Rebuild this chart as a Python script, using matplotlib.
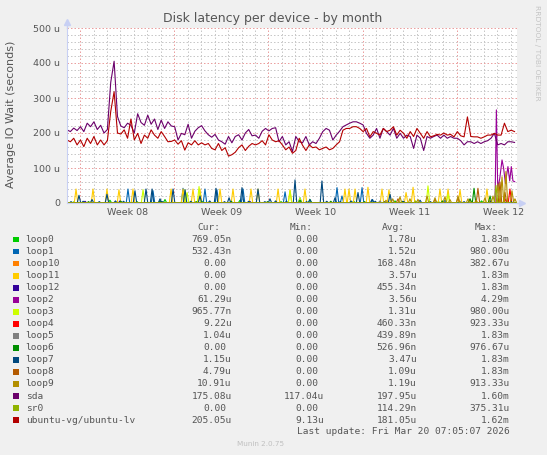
import matplotlib.pyplot as plt
from matplotlib.patches import Rectangle

W, H = 547, 455

# main series, one value every 6 hours (x axis = days from the left edge), in micro seconds
step = 0.25
sda = [209, 204, 214, 207, 218, 204, 228, 218, 232, 210, 222, 200, 210,
       345, 405, 247, 220, 215, 228, 222, 200, 255, 230, 222, 251, 225, 240, 210, 237, 213, 232,
       220, 218, 180, 199, 195, 225, 185, 205, 215, 221, 206, 195, 188, 196, 180, 175, 168, 190,
       172, 190, 195, 180, 200, 210, 192,
       194, 185, 205, 213, 206, 213, 215, 175, 190, 166, 175, 147, 190, 175, 172, 190, 166, 175,
       170, 185, 204, 213, 208, 180, 194, 205,
       218, 223, 228, 232, 232, 228, 223, 199, 185, 194, 213, 185, 213, 204, 194, 213, 185, 199,
       185, 194, 190, 156, 194, 185, 150,
       190, 185, 190, 194, 185, 194, 185, 190, 185, 185, 178, 166, 175, 175, 170, 175, 170, 175,
       178, 185, 199, 166, 170, 166, 175, 175, 173]
ubuntu_lv = [180, 175, 185, 166, 180, 161, 185, 170, 190, 166, 180, 166, 178,
             262, 318, 200, 197, 209, 185, 240, 180, 199, 170, 194, 185, 209, 194, 185, 204, 190, 175,
             176, 180, 168, 178, 151, 172, 166, 178, 166, 172, 166, 170, 156, 152, 170, 150, 158, 134,
             138, 145, 158, 166, 150, 162, 170,
             166, 170, 178, 166, 195, 180, 175, 178, 166, 152, 160, 142, 150, 185, 165, 150, 166, 158,
             160, 152, 156, 160, 152, 156, 166, 175,
             208, 213, 213, 218, 218, 213, 204, 213, 189, 204, 199, 194, 213, 204, 208, 218, 194, 208,
             199, 185, 204, 190, 213, 199, 185,
             204, 189, 192, 196, 194, 200, 194, 196, 189, 204, 192, 189, 246, 190, 189, 189, 185, 189,
             194, 194, 199, 194, 194, 228, 204, 208, 204]

# small devices: spikes as (day, height in u)
loop0_days = [0.5, 3.19, 5.2, 7.28, 10.1, 12.85, 15.9, 18.05, 21.3, 24.37, 27.6, 30.8]
loop0_vals = [3, 8, 4, 10, 5, 8, 4, 10, 5, 6, 4, 6]
loop1_days = [4.53, 6.39, 8.62, 10.25, 11.14, 13.08, 16.20, 17.31, 20.06, 20.43, 21.92, 22.70, 28.08]
loop1_vals = [40, 35, 42, 40, 38, 40, 32, 15, 44, 20, 44, 10, 8]
loop10_days = [29.94, 31.43]
loop10_vals = [10, 8]
loop11_days = [0.67, 1.93, 2.97, 3.86, 4.90, 7.73, 8.62, 9.36, 9.88, 11.37, 12.33, 13.67, 14.19,
               15.68, 16.57, 17.68, 20.65, 20.95, 21.40, 22.36, 23.40, 23.92, 25.19, 25.71, 27.71,
               28.31, 29.20, 31.20]
loop11_vals = [40, 40, 40, 38, 40, 40, 40, 40, 40, 40, 40, 40, 40,
               40, 38, 40, 40, 40, 40, 45, 40, 38, 30, 45, 40,
               40, 38, 40]
loop12_days = [1.34, 3.94, 13.6]
loop12_vals = [5, 6, 4]
loop2_days = [0.0, 31.80, 31.90, 32.00, 32.15, 32.32, 32.44, 32.57, 32.76, 32.89, 33.01, 33.13, 33.26]
loop2_vals = [0, 0, 266, 40, 70, 123, 99, 56, 104, 63, 104, 63, 61]
loop3_days = [5.65, 8.77, 8.92, 9.81, 16.57, 17.31, 26.82, 28.31]
loop3_vals = [38, 38, 30, 47, 35, 15, 49, 25]
loop4_days = [32.54, 32.91]
loop4_vals = [12, 40]
loop5_days = [23.25, 29.2]
loop5_vals = [6, 5]
loop6_days = [1.6, 4.0, 6.91, 9.6, 12.2, 14.9, 17.31, 19.6, 22.1, 24.9, 27.9, 29.94, 30.24, 31.43]
loop6_vals = [4, 5, 6, 4, 5, 4, 8, 5, 4, 5, 6, 12, 42, 20]
loop7_days = [0.3, 0.89, 1.2, 1.86, 2.4, 2.97, 3.6, 4.2, 5.05, 5.87, 6.32, 6.91, 7.1, 7.88, 8.77,
              9.2, 9.88, 10.6, 11.07, 11.7, 12.04, 13.0, 13.5, 14.19, 14.7, 15.08, 15.5, 16.3,
              16.94, 17.8, 18.05, 18.94, 19.3, 19.91, 20.3, 21.1, 21.62, 22.66, 22.9, 23.6, 24.0,
              25.0, 26.23, 27.0, 29.5, 31.5, 33.0]
loop7_vals = [4, 22, 5, 10, 4, 25, 6, 5, 35, 40, 40, 12, 4, 40, 38,
              5, 20, 6, 42, 4, 15, 44, 5, 40, 4, 12, 6, 5,
              66, 4, 10, 63, 5, 15, 4, 6, 30, 10, 5, 4, 25,
              5, 8, 4, 4, 5, 4]
loop8_days = [24.59, 27.34, 29.05, 30.53, 32.17, 32.54]
loop8_vals = [12, 10, 15, 42, 60, 30]
loop9_days = [23.7, 24.2, 24.74, 25.48, 26.08, 26.75, 27.34, 28.08, 28.45, 29.05, 29.79, 30.4,
              31.05, 31.65, 32.02, 32.32, 32.61, 33.06, 33.28]
loop9_vals = [8, 12, 18, 12, 10, 20, 15, 18, 10, 20, 12, 8,
              15, 20, 55, 75, 90, 35, 12]
sr0_days = [25.9, 31.87]
sr0_vals = [6, 50]

names = ["loop0", "loop1", "loop10", "loop11", "loop12", "loop2", "loop3", "loop4", "loop5",
         "loop6", "loop7", "loop8", "loop9", "sda", "sr0", "ubuntu-vg/ubuntu-lv"]
colors = ["#00CC00", "#0066B3", "#FF8000", "#FFCC00", "#330099", "#990099", "#CCFF00", "#FF0000",
          "#808080", "#008F00", "#00487D", "#B35A00", "#B38F00", "#6B006B", "#8FB300", "#B30000"]
cur = ["769.05n", "532.43n", "0.00", "0.00", "0.00", "61.29u", "965.77n", "9.22u", "1.04u",
       "0.00", "1.15u", "4.79u", "10.91u", "175.08u", "0.00", "205.05u"]
mins = ["0.00"] * 13 + ["117.04u", "0.00", "9.13u"]
avgs = ["1.78u", "1.52u", "168.48n", "3.57u", "455.34n", "3.56u", "1.31u", "460.33n", "439.89n",
        "526.96n", "3.47u", "1.09u", "1.19u", "197.95u", "114.29n", "181.05u"]
maxs = ["1.83m", "980.00u", "382.67u", "1.83m", "1.83m", "4.29m", "980.00u", "923.33u", "1.83m",
        "976.67u", "1.83m", "1.83m", "913.33u", "1.60m", "375.31u", "1.62m"]

week_labels = ["Week 08", "Week 09", "Week 10", "Week 11", "Week 12"]
first_week = 0.97   # day of the first week boundary
px_per_day = 13.46
TXT = "#555555"
AXC = "#C8D0F4"


def spikes(days, vals, width=0.13):
    x, y = [0.0], [0.0]
    for d, v in sorted(zip(days, vals)):
        x += [d - width, d, d + width]
        y += [0, v, 0]
    x.append(33.4)
    y.append(0)
    return x, y


fig = plt.figure(figsize=(W / 100, H / 100), dpi=100, facecolor="#F0F0F0")
ax = fig.add_axes([67 / W, 1 - 203 / H, 450 / W, 175 / H])
ax.set_facecolor("white")

xmax = 450 / px_per_day
ax.set_xlim(0, xmax)
ax.set_ylim(0, 500)

weeks = [first_week + 7 * k for k in range(5)]
days = [first_week + k for k in range(-1, 33) if 0 < first_week + k < xmax]
ax.set_xticks(weeks)
ax.set_xticks(days, minor=True)
ax.set_yticks(range(0, 501, 100))
ax.set_yticks(range(0, 501, 20), minor=True)
ax.set_yticklabels(["0"] + ["%d u" % v for v in range(100, 501, 100)])
ax.set_xticklabels([])
ax.grid(which="minor", color="#C8C8C8", linestyle=(0, (1.5, 2)), lw=0.72)
ax.grid(which="major", color="#EBA0A0", linestyle=(0, (1.5, 2)), lw=0.72)
ax.set_axisbelow(True)
ax.tick_params(which="both", length=0, labelsize=6.8, colors=TXT)
ax.tick_params(axis="y", pad=5)

for s in ["top", "right"]:
    ax.spines[s].set_visible(False)
for s in ["left", "bottom"]:
    ax.spines[s].set_color(AXC)
ax.plot([0, 0], [1, 1.03], transform=ax.transAxes, color=AXC, lw=1, clip_on=False)
ax.plot([0], [1.035], transform=ax.transAxes, marker="^", ms=4, color=AXC, clip_on=False)
ax.plot([1, 1.008], [0, 0], transform=ax.transAxes, color=AXC, lw=1, clip_on=False)
ax.plot([1.01], [0], transform=ax.transAxes, marker=">", ms=4, color=AXC, clip_on=False)

for k, lab in enumerate(week_labels):
    ax.text(weeks[k] + 3.5, -0.053, lab, transform=ax.get_xaxis_transform(),
            ha="center", va="center", fontsize=6.8, color=TXT)

lw = 0.8
small = [(loop0_days, loop0_vals), (loop1_days, loop1_vals), (loop10_days, loop10_vals),
         (loop11_days, loop11_vals), (loop12_days, loop12_vals)]
for (d, v), c in zip(small, colors[:5]):
    x, y = spikes(d, v)
    ax.plot(x, y, color=c, lw=lw)
ax.plot(loop2_days, loop2_vals, color=colors[5], lw=lw)
small = [(loop3_days, loop3_vals), (loop4_days, loop4_vals), (loop5_days, loop5_vals),
         (loop6_days, loop6_vals), (loop7_days, loop7_vals), (loop8_days, loop8_vals),
         (loop9_days, loop9_vals)]
for (d, v), c in zip(small, colors[6:13]):
    x, y = spikes(d, v)
    ax.plot(x, y, color=c, lw=lw)
t = [i * step for i in range(len(sda))]
ax.plot(t, sda, color=colors[13], lw=lw)
x, y = spikes(sr0_days, sr0_vals)
ax.plot(x, y, color=colors[14], lw=lw)
ax.plot(t, ubuntu_lv, color=colors[15], lw=lw)

# texts around the graph
fig.text(273 / W, 1 - 18.5 / H, "Disk latency per device - by month", ha="center", va="center",
         fontsize=9, color=TXT)
fig.text(11 / W, 1 - 114 / H, "Average IO Wait (seconds)", rotation=90, ha="center", va="center",
         fontsize=8, color=TXT)
fig.text(537.5 / W, 1 - 53 / H, "RRDTOOL / TOBI OETIKER", rotation=270, ha="center", va="center",
         fontsize=5.4, color="#C4C4C4")

# legend block
mono = "DejaVu Sans Mono"
cw = 5.67
fs = 6.8
for lab, xr in zip(["Cur:", "Min:", "Avg:", "Max:"], [220, 312.5, 405.2, 497.8]):
    fig.text(xr / W, 1 - 227 / H, lab, ha="right", va="center", family=mono, fontsize=fs, color=TXT)


def right_edge(s, edge):
    return edge if s[-1] in "num" else edge - cw


for k, name in enumerate(names):
    yr = 239.5 + 12.04 * k
    fig.add_artist(Rectangle((13.3 / W, 1 - (yr + 2.9) / H), 5.6 / W, 5.6 / H,
                             transform=fig.transFigure, color=colors[k], lw=0))
    fig.text(25.7 / W, 1 - yr / H, name, ha="left", va="center", family=mono, fontsize=fs, color=TXT)
    for s, edge in zip([cur[k], mins[k], avgs[k], maxs[k]], [231.7, 324, 416.7, 509.3]):
        fig.text(right_edge(s, edge) / W, 1 - yr / H, s, ha="right", va="center",
                 family=mono, fontsize=fs, color=TXT)

fig.text(509.3 / W, 1 - 431.5 / H, "Last update: Fri Mar 20 07:05:07 2026", ha="right", va="center",
         family=mono, fontsize=fs, color=TXT)
fig.text(260.7 / W, 1 - 444 / H, "Munin 2.0.75", ha="center", va="center", fontsize=5.2,
         color="#C0C0C0")

fig.savefig("out.png", dpi=100, facecolor=fig.get_facecolor())
